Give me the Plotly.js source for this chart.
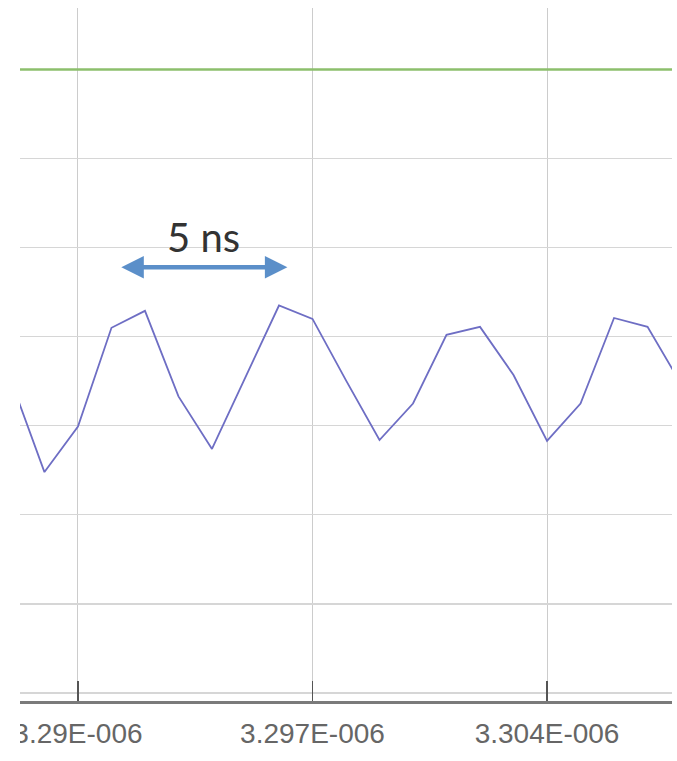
<!DOCTYPE html>
<html>
<head>
<meta charset="utf-8">
<script src="https://cdn.plot.ly/plotly-3.0.1.min.js"></script>
<style>
  html, body { margin: 0; padding: 0; background: #ffffff; }
  #chart { width: 677px; height: 761px; }
</style>
</head>
<body>
<div id="chart"></div>
<script>
// Sample times (s), one sample per nanosecond
const sampleTimes = [
  3.288e-6, 3.289e-6, 3.290e-6, 3.291e-6, 3.292e-6, 3.293e-6, 3.294e-6,
  3.295e-6, 3.296e-6, 3.297e-6, 3.298e-6, 3.299e-6, 3.300e-6, 3.301e-6,
  3.302e-6, 3.303e-6, 3.304e-6, 3.305e-6, 3.306e-6, 3.307e-6, 3.308e-6
];
// Measured waveform at each sample
const signalValues = [
  3.51, 2.48, 2.99, 4.10, 4.29, 3.33, 2.74,
  3.55, 4.35, 4.20, 3.51, 2.84, 3.25, 4.02,
  4.11, 3.57, 2.83, 3.25, 4.21, 4.11, 3.47
];
// Reference level (flat trace)
const refTimes = [3.288e-6, 3.308e-6];
const refValues = [7.0, 7.0];

// Time axis ticks
const xTickVals = [3.290e-6, 3.297e-6, 3.304e-6];
const xTickText = ['3.29E-006', '3.297E-006', '3.304E-006'];
const yGridVals = [0, 1, 2, 3, 4, 5, 6, 7];

// Period marker
const periodStart = 3.29125e-6;
const periodNs = 5;
const periodLevel = 4.78;
const periodLabel = '5 ns';

const periodEnd = periodStart + periodNs * 1e-9;

const traces = [
  {
    x: refTimes, y: refValues, type: 'scatter', mode: 'lines',
    line: { color: '#8cbf6c', width: 2.5 }, hoverinfo: 'skip'
  },
  {
    x: sampleTimes, y: signalValues, type: 'scatter', mode: 'lines',
    line: { color: '#6e6ec4', width: 1.8 }, hoverinfo: 'skip'
  }
];

const layout = {
  width: 677, height: 761,
  margin: { l: 20, r: 5, t: 8, b: 60 },
  paper_bgcolor: '#ffffff', plot_bgcolor: '#ffffff',
  showlegend: false,
  xaxis: {
    range: [3.28827e-6, 3.30773e-6],
    tickmode: 'array', tickvals: xTickVals, ticktext: xTickText,
    showgrid: true, gridcolor: '#cccccc', gridwidth: 1,
    zeroline: false,
    showline: true, linecolor: '#7a7a7a', linewidth: 2.5,
    ticks: 'inside', ticklen: 20, tickwidth: 1.5, tickcolor: '#555555',
    ticklabelstandoff: 6,
    tickfont: { family: '"Liberation Sans", Arial, sans-serif', size: 28, color: '#666666' },
    fixedrange: true
  },
  yaxis: {
    range: [-0.09, 7.69],
    tickmode: 'array', tickvals: yGridVals, ticktext: yGridVals.map(() => ''),
    showticklabels: false,
    showgrid: true, gridcolor: '#d6d6d6', gridwidth: 1.2,
    zeroline: false, showline: false, ticks: '',
    fixedrange: true
  },
  shapes: [
    {
      type: 'rect', xref: 'paper', yref: 'paper', layer: 'above',
      x0: -0.05, x1: 0, y0: -0.12, y1: -0.015,
      fillcolor: '#ffffff', line: { width: 0 }
    }
  ],
  annotations: [
    {
      x: periodEnd, y: periodLevel, ax: periodStart, ay: periodLevel,
      xref: 'x', yref: 'y', axref: 'x', ayref: 'y',
      text: '', showarrow: true, arrowside: 'end+start',
      arrowhead: 2, arrowsize: 1, arrowwidth: 4.5, arrowcolor: '#5b8fc9'
    },
    {
      x: (periodStart + periodEnd) / 2, y: 5.12, xref: 'x', yref: 'y',
      text: periodLabel, showarrow: false,
      font: { family: 'Lato, "Open Sans", sans-serif', size: 40, color: '#333333' }
    }
  ]
};

Plotly.newPlot('chart', traces, layout, { displayModeBar: false, staticPlot: true });
</script>
</body>
</html>
